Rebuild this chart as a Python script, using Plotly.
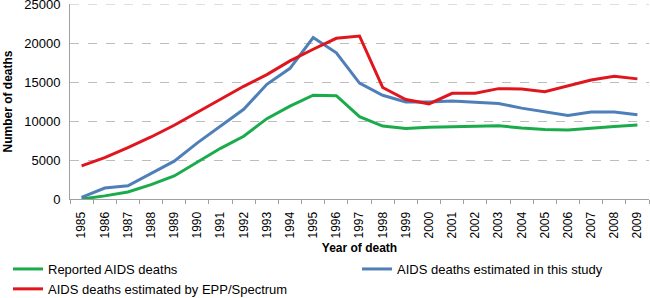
import plotly.graph_objects as go

years = [str(y) for y in range(1985, 2010)]
reported = [0, 400, 900, 1850, 2950, 4700, 6500, 8050, 10300, 11900, 13300, 13250, 10550,
            9350, 9050, 9200, 9250, 9300, 9400, 9100, 8900, 8850, 9100, 9300, 9500]
estimated_study = [200, 1400, 1700, 3300, 4850, 7200, 9300, 11500, 14700, 16750, 20700, 18750, 14850,
                   13300, 12450, 12450, 12550, 12400, 12250, 11650, 11200, 10700, 11150, 11150, 10800]
estimated_epp = [4250, 5300, 6600, 7950, 9450, 11100, 12800, 14450, 15950, 17700, 19200, 20600, 20900,
                 14300, 12750, 12200, 13550, 13550, 14150, 14100, 13750, 14500, 15250, 15750, 15400]
y_ticks = [0, 5000, 10000, 15000, 20000, 25000]

font_family = "Liberation Sans, Arial, sans-serif"

fig = go.Figure()
fig.add_trace(go.Scatter(x=years, y=reported, mode="lines", name="Reported AIDS deaths",
                         line=dict(color="#1AAB4B", width=3), legend="legend"))
fig.add_trace(go.Scatter(x=years, y=estimated_study, mode="lines", name="AIDS deaths estimated in this study",
                         line=dict(color="#4F7FB8", width=3), legend="legend2"))
fig.add_trace(go.Scatter(x=years, y=estimated_epp, mode="lines", name="AIDS deaths estimated by EPP/Spectrum",
                         line=dict(color="#E0161E", width=3), legend="legend"))

legend_common = dict(xref="container", yref="container", xanchor="left", yanchor="top",
                     font=dict(size=13), bgcolor="rgba(0,0,0,0)", itemwidth=30,
                     orientation="v", tracegroupgap=0)

fig.update_layout(
    width=650, height=298,
    margin=dict(l=70, r=1, t=4, b=99, autoexpand=False),
    paper_bgcolor="white", plot_bgcolor="white",
    font=dict(family=font_family, size=12, color="#000000"),
    showlegend=True,
    legend=dict(x=8 / 650, y=(298 - 254) / 298, **legend_common),
    legend2=dict(x=357 / 650, y=(298 - 254) / 298, **legend_common),
    xaxis=dict(
        type="category", tickson="boundaries", ticks="outside", ticklen=4, tickcolor="#A0A0A0",
        showline=True, linecolor="#A0A0A0", linewidth=1, showgrid=False, tickangle=-90,
        tickfont=dict(size=12), ticklabelstandoff=7,
        title=dict(text="<b>Year of death</b>", font=dict(size=12), standoff=6),
        range=[-0.5, 24.5],
    ),
    yaxis=dict(
        range=[0, y_ticks[-1]], tickvals=y_ticks, ticktext=[str(v) for v in y_ticks],
        showline=True, linecolor="#A0A0A0", linewidth=1, ticks="", ticklen=0,
        showgrid=True, gridcolor="#BDBDBD", griddash="dash", gridwidth=1,
        zeroline=False, tickfont=dict(size=13), ticklabelstandoff=6,
        ticklabeloverflow="allow",
    ),
    shapes=[dict(type="line", xref="paper", yref="y", x0=0, x1=1,
                 y0=y_ticks[-1], y1=y_ticks[-1], layer="below",
                 line=dict(color="#BDBDBD", width=1, dash="dash"))],
    annotations=[dict(text="<b>Number of deaths</b>", xref="paper", yref="paper",
                      x=-70 / 579 + 7 / 579, y=0.5, xanchor="center", yanchor="middle",
                      textangle=-90, showarrow=False, font=dict(size=12))],
)

fig.write_html("out.html", post_script="document.body.style.margin='0';",
               config={"displayModeBar": False})
